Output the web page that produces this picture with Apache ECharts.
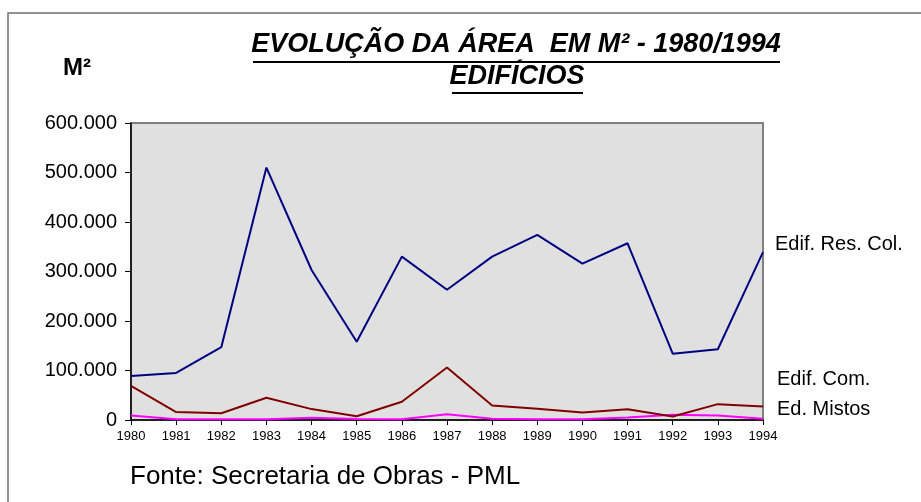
<!DOCTYPE html>
<html>
<head>
<meta charset="utf-8">
<script src="https://cdn.jsdelivr.net/npm/echarts@6/dist/echarts.min.js"></script>
<style>
  html, body { margin: 0; padding: 0; background: #fff; }
  #chart { width: 921px; height: 502px; }
</style>
</head>
<body>
<div id="chart"></div>
<script>
// dados (m²)
var years = ['1980', '1981', '1982', '1983', '1984', '1985', '1986', '1987',
  '1988', '1989', '1990', '1991', '1992', '1993', '1994'];
var resCol = [89000, 95000, 147000, 510000, 303000, 158000, 330000, 263000,
  330000, 374000, 316000, 357000, 134000, 143000, 339000];
var com = [69000, 16000, 13500, 45000, 22000, 7500, 37000, 106000,
  29500, 22500, 15000, 21500, 7000, 32000, 27500];
var mistos = [9000, 1500, 1500, 1500, 4500, 2000, 1500, 11500,
  2500, 1500, 1500, 5000, 10500, 9000, 2500];
var seriesNames = ['Edif. Res. Col.', 'Edif. Com.', 'Ed. Mistos'];

var font = 'Liberation Sans, Arial, sans-serif';

function fmt(v) {
  // separador de milhar com ponto
  return String(v).replace(/\B(?=(\d{3})+(?!\d))/g, '.');
}

// texto solto posicionado pelo centro vertical
function label(text, x, y, f, align) {
  return {
    type: 'text', x: x, y: y, silent: true,
    style: { text: text, font: f, fill: '#000', align: align || 'left', verticalAlign: 'middle' }
  };
}

var chart = echarts.init(document.getElementById('chart'), null, { renderer: 'canvas' });

var options = {
  backgroundColor: '#ffffff',
  animation: false,
  grid: {
    left: 131,
    right: 158,
    top: 123,
    bottom: 82,
    show: true,
    backgroundColor: '#e0e0e0',
    borderColor: '#808080',
    borderWidth: 2
  },
  xAxis: {
    type: 'category',
    data: years,
    boundaryGap: false,
    axisLine: { lineStyle: { color: '#000', width: 1.5 } },
    axisTick: { show: true, length: 5, lineStyle: { color: '#000' } },
    axisLabel: {
      color: '#000',
      fontFamily: font,
      fontSize: 13,
      margin: 10,
      interval: 0
    },
    splitLine: { show: false }
  },
  yAxis: {
    type: 'value',
    min: 0,
    max: 600000,
    interval: 100000,
    axisLine: { show: true, lineStyle: { color: '#000', width: 1.5 } },
    axisTick: { show: true, length: 6, lineStyle: { color: '#000' } },
    axisLabel: {
      color: '#000',
      fontFamily: font,
      fontSize: 20,
      margin: 14,
      formatter: fmt
    },
    splitLine: { show: false }
  },
  graphic: [
    // moldura externa
    {
      type: 'rect',
      shape: { x: 8, y: 13, width: 1000, height: 1000 },
      style: { fill: 'none', stroke: '#707070', lineWidth: 1.5 },
      silent: true
    },
    label('EVOLUÇÃO DA ÁREA  EM M² - 1980/1994', 516, 45, 'italic bold 27px ' + font, 'center'),
    {
      type: 'line',
      shape: { x1: 253, y1: 62, x2: 780, y2: 62 },
      style: { stroke: '#000', lineWidth: 2 }
    },
    label('EDIFÍCIOS', 517, 77, 'italic bold 27px ' + font, 'center'),
    {
      type: 'line',
      shape: { x1: 452, y1: 93, x2: 583, y2: 93 },
      style: { stroke: '#000', lineWidth: 2 }
    },
    label('M²', 63, 68, 'bold 24px ' + font),
    label(seriesNames[0], 775, 244, '20px ' + font),
    label(seriesNames[1], 777, 379, '20px ' + font),
    label(seriesNames[2], 777, 409, '20px ' + font),
    label('Fonte: Secretaria de Obras - PML', 130, 477, '26px ' + font)
  ],
  series: [
    {
      name: seriesNames[0],
      type: 'line',
      data: resCol,
      showSymbol: false,
      lineStyle: { color: '#000080', width: 2 },
      itemStyle: { color: '#000080' },
      z: 3
    },
    {
      name: seriesNames[1],
      type: 'line',
      data: com,
      showSymbol: false,
      lineStyle: { color: '#800000', width: 2 },
      itemStyle: { color: '#800000' },
      z: 2
    },
    {
      name: seriesNames[2],
      type: 'line',
      data: mistos,
      showSymbol: false,
      lineStyle: { color: '#ff00ff', width: 2 },
      itemStyle: { color: '#ff00ff' },
      z: 1
    }
  ]
};

chart.setOption(options);
</script>
</body>
</html>
